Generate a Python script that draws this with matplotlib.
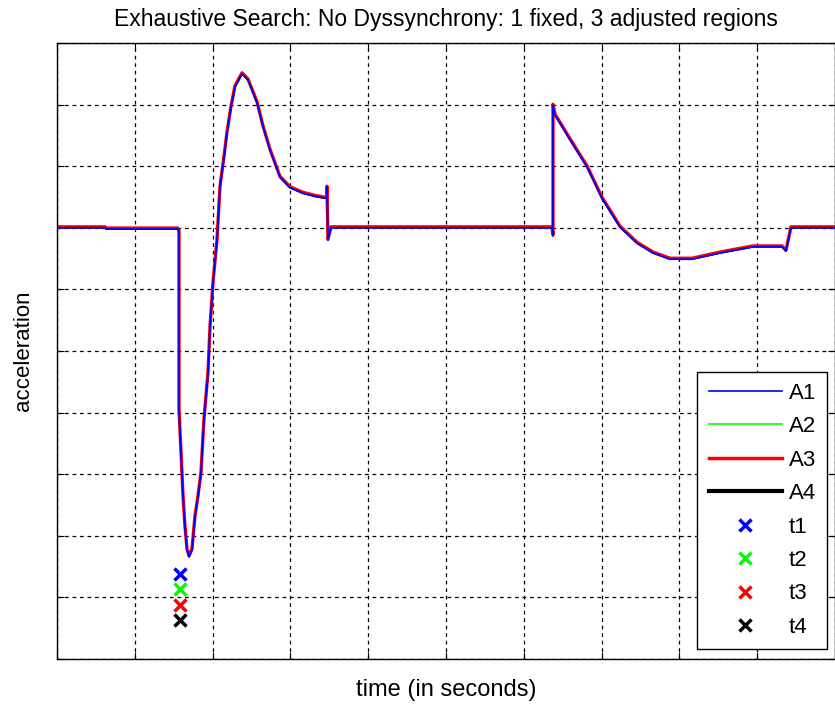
import matplotlib
matplotlib.use("Agg")
import matplotlib.pyplot as plt
import matplotlib.transforms as mtransforms
from matplotlib.lines import Line2D
import numpy as np

plt.rcParams["font.family"] = ["Liberation Sans", "DejaVu Sans"]

# acceleration trace (all four regions overlap almost exactly)
time = [0, 0.617, 0.630, 1.555, 1.568, 1.568, 1.594, 1.620, 1.645, 1.671, 1.697,
        1.735, 1.774, 1.812, 1.851, 1.889, 1.941, 1.967, 2.005, 2.057, 2.095,
        2.147, 2.185, 2.237, 2.288, 2.378, 2.455, 2.571, 2.648, 2.738, 2.866,
        2.995, 3.162, 3.316, 3.445, 3.470, 3.470, 3.483, 3.522, 6.362, 6.375,
        6.375, 6.401, 6.440, 6.594, 6.812, 7.005, 7.237, 7.455, 7.661, 7.879,
        8.162, 8.522, 8.946, 9.319, 9.370, 9.434, 10.0]
accel = [7.0, 7.0, 6.98, 6.98, 6.93, 4.04, 3.34, 2.63, 2.14, 1.77, 1.66,
         1.77, 2.31, 2.63, 3.02, 3.88, 4.64, 5.39, 6.10, 6.80, 7.66,
         8.15, 8.54, 8.96, 9.29, 9.50, 9.40, 9.03, 8.64, 8.26, 7.82,
         7.65, 7.56, 7.51, 7.48, 7.48, 7.66, 6.80, 7.0, 7.0, 6.87,
         8.99, 8.83, 8.75, 8.43, 7.99, 7.48, 7.01, 6.75, 6.59, 6.49,
         6.49, 6.59, 6.69, 6.69, 6.62, 7.0, 7.0]

series = ["A1", "A2", "A3", "A4"]
series_colors = ["#0000ff", "#00ff00", "#ff0000", "#000000"]

# onset markers t1..t4
marker_names = ["t1", "t2", "t3", "t4"]
marker_t = [1.58, 1.58, 1.58, 1.58]
marker_y = [1.38, 1.14, 0.88, 0.63]

fig = plt.figure(figsize=(8.35, 7.05), dpi=100)
ax = fig.add_axes([57 / 835, 46 / 705, 778 / 835, 616 / 705])

# red drawn 1px higher and wider, under the blue, as in the original
up1 = mtransforms.offset_copy(ax.transData, fig=fig, x=0, y=1, units="dots")
ax.plot(time, accel, color=series_colors[3], lw=1, zorder=1)
ax.plot(time, accel, color=series_colors[1], lw=1, zorder=1.5)
ax.plot(time, accel, color=series_colors[2], lw=2.4, zorder=2, transform=up1)
ax.plot(time, accel, color=series_colors[0], lw=1.3, zorder=3)

for t, y, c in zip(marker_t, marker_y, series_colors):
    ax.plot(t, y, "x", color=c, ms=9, mew=2.5, zorder=4)

ax.set_xlim(0, 10)
ax.set_ylim(0, 10)
ax.set_xticks(np.arange(0, 11, 1))
ax.set_yticks(np.arange(0, 11, 1))
ax.set_xticklabels([])
ax.set_yticklabels([])
ax.tick_params(direction="in", length=5, width=0.8, top=True, right=True)
ax.grid(True, color="k", linestyle=(0, (3, 3)), lw=0.9)
for s in ax.spines.values():
    s.set_linewidth(1)
ax.set_axisbelow(True)

ax.set_title("Exhaustive Search: No Dyssynchrony: 1 fixed, 3 adjusted regions",
             fontsize=16.5, pad=12)
ax.set_xlabel("time (in seconds)", fontsize=17, labelpad=11)
ax.set_ylabel("acceleration", fontsize=16, labelpad=13)

handles = [
    Line2D([], [], color=series_colors[0], lw=1.2),
    Line2D([], [], color=series_colors[1], lw=1.2),
    Line2D([], [], color=series_colors[2], lw=2.5),
    Line2D([], [], color=series_colors[3], lw=3),
]
handles += [Line2D([], [], ls="none", marker="x", color=c, ms=9, mew=2.5)
            for c in series_colors]
leg = ax.legend(handles, series + marker_names, loc="lower right",
                bbox_to_anchor=(0.9897, 0.0162), borderaxespad=0,
                fontsize=16, fancybox=False, framealpha=1, edgecolor="k",
                handlelength=3.3, labelspacing=0.56, handletextpad=0.3,
                borderpad=0.5)
leg.get_frame().set_linewidth(1)

fig.savefig("out.png", dpi=100)
